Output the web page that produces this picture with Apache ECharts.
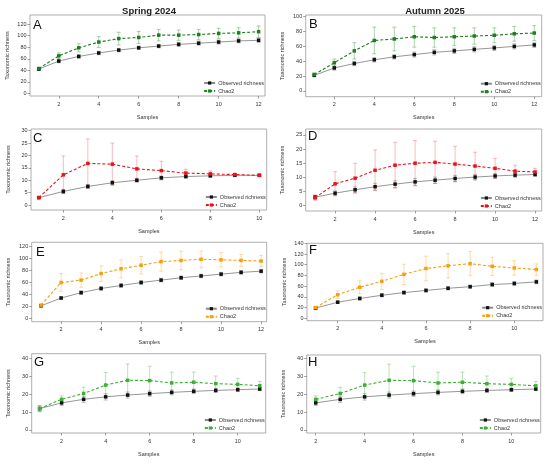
<!DOCTYPE html>
<html><head><meta charset="utf-8">
<script src="https://cdn.jsdelivr.net/npm/echarts@6/dist/echarts.min.js"></script>
<style>html,body{margin:0;padding:0;background:#fff}#c{width:550px;height:463px}</style>
</head><body><div id="c"></div>
<script>
// ---- data ----
var xA = [1,2,3,4,5,6,7,8,9,10,11,12];
var obsA = [42,56,64,70,75,79,82,85,87,89,91,92];
var obsErrA = [1.5,3,3,3,3,3,3,3.5,3.5,3.5,3.5,3.5];
var chaoA = [43,65,79,89,95,97,101,101,102,104,105,107];
var chaoErrA = [2,5,7,9.5,11,10.5,10,9,9,9,9,10];

var xB = [1,2,3,4,5,6,7,8,9,10,11,12];
var obsB = [21,31,37,42,46,49,52,54,56,58,60,62];
var obsErrB = [1.5,3,3,3,3,3.5,3.5,3.5,3.5,3.5,3.5,3.5];
var chaoB = [22,38,54,68,70,73,72,73,74,75,77,78];
var chaoErrB = [2.5,5,11,18,16,14,13,12,11,10,10,10];

var xC = [1,2,3,4,5,6,7,8,9,10];
var obsC = [3,5.5,7.5,9,10,11,11.5,11.8,12,12];
var obsErrC = [0,0.8,0.8,0.9,0.8,0.7,0.6,0.5,0.4,0.3];
var chaoC = [3,12.2,16.8,16.5,14.6,13.9,12.9,12.6,12.3,12];
var chaoErrC = [0,7.6,9.9,8.5,5.2,3.8,1.6,1.2,0.5,0.3];

var xD = [1,2,3,4,5,6,7,8,9,10,11,12];
var obsD = [3,4.4,5.6,6.7,7.6,8.4,9,9.6,10.1,10.5,10.8,11];
var obsErrD = [0.7,0.8,1,1.2,1.2,1.2,1.1,1.1,1,0.9,0.7,0.6];
var chaoD = [2.8,7.7,9.7,12.5,14.3,15,15.3,14.7,14,13.2,12.2,11.9];
var chaoErrD = [0.9,4.3,5.3,7.2,8.1,8,7.5,6.3,4.9,3.5,2.1,1.3];

var xE = [1,2,3,4,5,6,7,8,9,10,11,12];
var obsE = [21,34,43,50,55,60,64,68,71,74,77,79];
var obsErrE = [2,2.5,3,3,3,3,3,3,3,3,3,3];
var chaoE = [22,60,64,75,83,89,95,97,99,98,97,96];
var chaoErrE = [1.5,15,12,13,15,14.5,16,15.5,14,12,10,9.5];

var xF = [1,2,3,4,5,6,7,8,9,10,11];
var obsF = [19,30,37,43,48,52,56,59,63,65,68];
var obsErrF = [2,2.5,3,3,3,3,3,3,3.5,3.5,3.5];
var chaoF = [20,44,58,69,82,93,98,102,97,94,91];
var chaoErrF = [2,7,12,15,19,23,23,22.5,17,13.5,10.5];

var xG = [1,2,3,4,5,6,7,8,9,10,11];
var obsG = [12,15.2,17.2,18.6,19.6,20.4,21.1,21.7,22.2,22.6,23];
var obsErrG = [1.5,1.5,1.7,1.8,1.7,1.5,1.4,1.3,1.2,1,0.9];
var chaoG = [12,17.2,20.5,25.2,27.9,27.7,26.4,26.8,26,25.6,24.8];
var chaoErrG = [1.8,2,3.5,7,9.1,8.1,6.1,5.7,4.3,3.4,2.5];

var xH = [2,3,4,5,6,7,8,9,10,11];
var obsH = [15.2,17.2,18.6,19.6,20.4,21.1,21.7,22.2,22.6,23];
var obsErrH = [1.5,1.7,1.8,1.7,1.5,1.4,1.3,1.2,1,0.9];
var chaoH = [17.2,20.5,25.2,27.9,27.7,26.4,26.8,26,25.6,24.8];
var chaoErrH = [2,3.5,7,9.1,8.1,6.1,5.7,4.3,3.4,2.5];

var yTicksA = [0,20,40,60,80,100,120];
var yTicksB = [0,20,40,60,80,100];
var yTicksC = [0,5,10,15,20,25,30];
var yTicksD = [0,5,10,15,20,25];
var yTicksE = [0,20,40,60,80,100,120];
var yTicksF = [0,20,40,60,80,100,120,140];
var yTicksG = [0,10,20,30,40];
var yTicksH = [0,10,20,30,40];
var xTicks12 = [2,4,6,8,10,12];
var xTicks10 = [2,4,6,8,10];

var titles = ['Spring 2024','Autumn 2025'];
var letters = ['A','B','C','D','E','F','G','H'];

// ---- layout ----
var panels = [
  {L:'A', x:xA, o:obsA, oe:obsErrA, c:chaoA, ce:chaoErrA, yt:yTicksA, xt:xTicks12, col:'#1d7f1d', ecol:'rgba(29,127,29,0.4)', g:[30,15,235,81], xr:[0.56,12.32], yr:[-4.7,136], lp:[33,19]},
  {L:'B', x:xB, o:obsB, oe:obsErrB, c:chaoB, ce:chaoErrB, yt:yTicksB, xt:xTicks12, col:'#1d7f1d', ecol:'rgba(29,127,29,0.4)', g:[305.7,15,236,81.7], xr:[0.57,12.37], yr:[-7.7,102.3], lp:[309,18]},
  {L:'C', x:xC, o:obsC, oe:obsErrC, c:chaoC, ce:chaoErrC, yt:yTicksC, xt:xTicks10, col:'#e8141c', ecol:'rgba(232,20,28,0.32)', g:[31,129,235.7,81], xr:[0.68,10.3], yr:[-2,30.7], lp:[33,132]},
  {L:'D', x:xD, o:obsD, oe:obsErrD, c:chaoD, ce:chaoErrD, yt:yTicksD, xt:xTicks12, col:'#e8141c', ecol:'rgba(232,20,28,0.32)', g:[305.7,129,236,82], xr:[0.53,12.33], yr:[-1.9,27.1], lp:[308,130]},
  {L:'E', x:xE, o:obsE, oe:obsErrE, c:chaoE, ce:chaoErrE, yt:yTicksE, xt:xTicks12, col:'#f5a00f', ecol:'rgba(245,160,15,0.4)', g:[31.7,242.3,235,79.4], xr:[0.53,12.28], yr:[-5.7,127.4], lp:[36,246]},
  {L:'F', x:xF, o:obsF, oe:obsErrF, c:chaoF, ce:chaoErrF, yt:yTicksF, xt:xTicks10, col:'#f5a00f', ecol:'rgba(245,160,15,0.4)', g:[307,243.3,236,77.4], xr:[0.61,11.3], yr:[-4.5,140], lp:[309,244]},
  {L:'G', x:xG, o:obsG, oe:obsErrG, c:chaoG, ce:chaoErrG, yt:yTicksG, xt:xTicks10, col:'#3cb034', ecol:'rgba(60,176,52,0.4)', g:[31.7,353.7,234,79.3], xr:[0.64,11.27], yr:[-1.7,42.8], lp:[34,356]},
  {L:'H', x:xH, o:obsH, oe:obsErrH, c:chaoH, ce:chaoErrH, yt:yTicksH, xt:xTicks10, col:'#3cb034', ecol:'rgba(60,176,52,0.4)', g:[306.7,355,234,78], xr:[1.63,11.2], yr:[-1.7,42.1], lp:[308,356]}
];

var FONT = 'Liberation Sans, Arial, sans-serif';
var grids=[], xAxes=[], yAxes=[], series=[], legends=[], graphics=[];

function errRender(color){
  return function(params, api){
    var x=api.value(0), lo=api.value(1), hi=api.value(2);
    var p1=api.coord([x,lo]), p2=api.coord([x,hi]);
    var w=2;
    var st={stroke:color, lineWidth:0.9};
    return {type:'group', children:[
      {type:'line', shape:{x1:p1[0],y1:p1[1],x2:p2[0],y2:p2[1]}, style:st},
      {type:'line', shape:{x1:p1[0]-w,y1:p1[1],x2:p1[0]+w,y2:p1[1]}, style:st},
      {type:'line', shape:{x1:p2[0]-w,y1:p2[1],x2:p2[0]+w,y2:p2[1]}, style:st}
    ]};
  };
}

panels.forEach(function(p,i){
  grids.push({left:p.g[0], top:p.g[1], width:p.g[2], height:p.g[3], show:true, borderColor:'#9a9a9a', borderWidth:0.8, backgroundColor:'transparent', containLabel:false});
  xAxes.push({type:'value', gridIndex:i, min:p.xr[0], max:p.xr[1],
    name:'Samples', nameLocation:'middle', nameGap:18, nameTextStyle:{fontSize:5.5, color:'#333', fontFamily:FONT},
    axisLine:{show:false, onZero:false},
    axisTick:{show:true, customValues:p.xt, length:2.5, lineStyle:{color:'#777', width:0.7}},
    axisLabel:{show:true, customValues:p.xt, fontSize:5.5, color:'#333', margin:5, fontFamily:FONT},
    splitLine:{show:false}});
  yAxes.push({type:'value', gridIndex:i, min:p.yr[0], max:p.yr[1],
    name:'Taxonomic richness', nameLocation:'middle', nameGap:20, nameRotate:90, nameTextStyle:{fontSize:5.5, color:'#333', fontFamily:FONT},
    axisLine:{show:false, onZero:false},
    axisTick:{show:true, customValues:p.yt, length:2.5, lineStyle:{color:'#777', width:0.7}},
    axisLabel:{show:true, customValues:p.yt, fontSize:5.5, color:'#333', margin:3.5, fontFamily:FONT},
    splitLine:{show:false}});
  var oErr = p.x.map(function(x,k){return [x, p.o[k]-p.oe[k], p.o[k]+p.oe[k]];});
  var cErr = p.x.map(function(x,k){return [x, p.c[k]-p.ce[k], p.c[k]+p.ce[k]];});
  series.push({type:'custom', xAxisIndex:i, yAxisIndex:i, renderItem:errRender('rgba(110,110,110,0.5)'), data:oErr, encode:{x:0,y:[1,2]}, z:1, silent:true});
  series.push({type:'custom', xAxisIndex:i, yAxisIndex:i, renderItem:errRender(p.ecol), data:cErr, encode:{x:0,y:[1,2]}, z:1, silent:true});
  series.push({type:'line', name:'Observed richness|'+p.L, xAxisIndex:i, yAxisIndex:i,
    data:p.x.map(function(x,k){return [x,p.o[k]];}), symbol:'rect', symbolSize:3.5, showSymbol:true,
    itemStyle:{color:'#111'}, lineStyle:{color:'#8a8a8a', width:0.9}, z:3, animation:false});
  series.push({type:'line', name:'Chao2|'+p.L, xAxisIndex:i, yAxisIndex:i,
    data:p.x.map(function(x,k){return [x,p.c[k]];}), symbol:'rect', symbolSize:3.5, showSymbol:true,
    itemStyle:{color:p.col}, lineStyle:{color:p.col, width:1.1, type:[3,2]}, z:4, animation:false});
  legends.push({data:['Observed richness|'+p.L,'Chao2|'+p.L], orient:'vertical',
    right:550-(p.g[0]+p.g[2])+1, top:p.g[1]+p.g[3]-16, itemWidth:11, itemHeight:4, itemGap:2, padding:0,
    formatter:function(n){return n.split('|')[0];}, selectedMode:false,
    textStyle:{fontSize:5.5, color:'#333', fontFamily:FONT, padding:[0,0,0,-2]}});
  graphics.push({type:'text', left:p.lp[0], top:p.lp[1], style:{text:letters[i], fontSize:13, fill:'#111', fontFamily:'Liberation Sans, Arial, sans-serif'}});
});

var chart = echarts.init(document.getElementById('c'), null, {renderer:'canvas'});
chart.setOption({
  animation:false,
  title:[
    {text:titles[0], left:144, top:1, textAlign:'center', textStyle:{fontSize:9.5, fontWeight:'bold', color:'#222', fontFamily:'Liberation Sans, Arial, sans-serif'}},
    {text:titles[1], left:430, top:1, textAlign:'center', textStyle:{fontSize:9.5, fontWeight:'bold', color:'#222', fontFamily:'Liberation Sans, Arial, sans-serif'}}
  ],
  grid:grids, xAxis:xAxes, yAxis:yAxes, series:series, legend:legends, graphic:graphics
});
</script></body></html>
